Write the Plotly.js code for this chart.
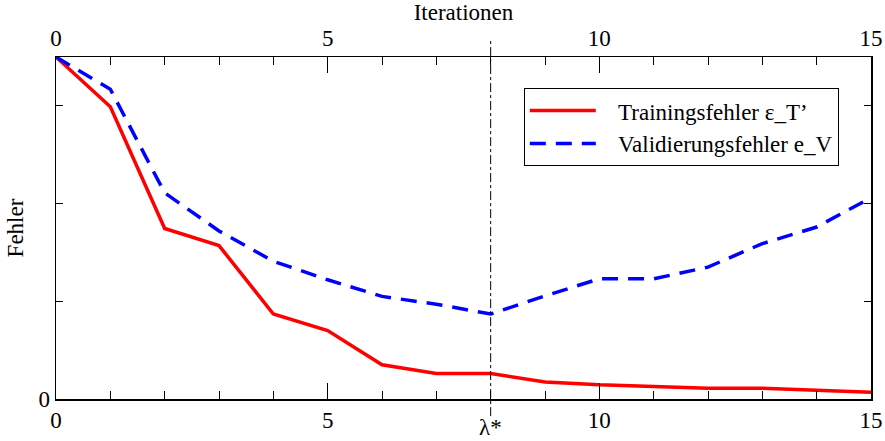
<!DOCTYPE html>
<html>
<head>
<meta charset="utf-8">
<script src="https://cdn.plot.ly/plotly-3.0.1.min.js"></script>
<style>body{margin:0;padding:0;background:#fff}#chart{width:885px;height:441px}</style>
</head>
<body>
<div id="chart"></div>
<script>
var iterations = [0,1,2,3,4,5,6,7,8,9,10,11,12,13,14,15];
var trainingError = [3.5,2.99,1.745,1.57,0.87,0.70,0.35,0.26,0.26,0.175,0.145,0.13,0.11,0.11,0.09,0.07];
var validationError = [3.5,3.17,2.11,1.72,1.41,1.22,1.05,0.97,0.87,1.055,1.23,1.23,1.35,1.59,1.76,2.06];
var xTickVals = [0,5,10,15];
var xTickText = ['0','5','10','15'];
var yTickVals = [0,1,2,3];
var yTickText = ['0','','',''];
var lambdaStar = 8;
var seriesNames = ['Trainingsfehler ε_T’', 'Validierungsfehler e_V'];

var font = {family: 'Liberation Serif', size: 23, color: '#000'};
var pad = '\u00a0\u00a0\u00a0';

var traces = [
  {x: iterations, y: trainingError, type: 'scatter', mode: 'lines', name: pad + seriesNames[0],
   line: {color: '#ff0000', width: 3.5}},
  {x: iterations, y: validationError, type: 'scatter', mode: 'lines', name: pad + seriesNames[1],
   line: {color: '#0000ff', width: 3.5, dash: '16px,10px'}},
  {x: iterations, y: trainingError, type: 'scatter', mode: 'lines', xaxis: 'x2', showlegend: false,
   hoverinfo: 'skip', line: {color: 'rgba(0,0,0,0)', width: 0}}
];

var layout = {
  width: 885, height: 441,
  margin: {l: 56, r: 14, t: 57, b: 42},
  paper_bgcolor: '#fff', plot_bgcolor: '#fff',
  font: font,
  showlegend: true,
  legend: {x: 0.574, y: 0.909, xanchor: 'left', yanchor: 'top', bgcolor: '#fff',
           bordercolor: '#000', borderwidth: 1, font: font, itemwidth: 66, tracegroupgap: 0},
  xaxis: {range: [0, 15], tickvals: xTickVals, ticktext: xTickText, ticks: 'inside', ticklen: 16,
          tickwidth: 1, tickcolor: '#000', showline: true, linecolor: '#000', linewidth: 1.5,
          showgrid: false, zeroline: false, tickfont: font,
          minor: {dtick: 1, tick0: 0, ticks: 'inside', ticklen: 8, tickwidth: 1, tickcolor: '#000', showgrid: false}},
  xaxis2: {range: [0, 15], overlaying: 'x', side: 'top', anchor: 'y', tickvals: xTickVals, ticktext: xTickText,
           ticks: 'inside', ticklen: 16, tickwidth: 1, tickcolor: '#000', showline: true, linecolor: '#000',
           linewidth: 1.5, showgrid: false, zeroline: false, tickfont: font,
           title: {text: 'Iterationen', font: font, standoff: 0},
           minor: {dtick: 1, tick0: 0, ticks: 'inside', ticklen: 8, tickwidth: 1, tickcolor: '#000', showgrid: false}},
  yaxis: {range: [0, 3.5], tickvals: yTickVals, ticktext: yTickText, ticks: 'inside', ticklen: 7,
          tickwidth: 1, tickcolor: '#000', showline: true, linecolor: '#000', linewidth: 1.5, mirror: 'ticks',
          showgrid: false, zeroline: false, tickfont: font,
          title: {text: 'Fehler', font: font, standoff: 8}},
  shapes: [
    {type: 'line', xref: 'x', yref: 'paper', x0: lambdaStar, x1: lambdaStar, y0: -0.05, y1: 1.05,
     line: {color: '#000', width: 1, dash: 'dashdot'}}
  ],
  annotations: [
    {xref: 'x', yref: 'paper', x: lambdaStar, y: -0.125, yanchor: 'bottom', xanchor: 'center',
     text: 'λ*', showarrow: false, font: font}
  ]
};

Plotly.newPlot('chart', traces, layout, {displayModeBar: false, staticPlot: true});
</script>
</body>
</html>
